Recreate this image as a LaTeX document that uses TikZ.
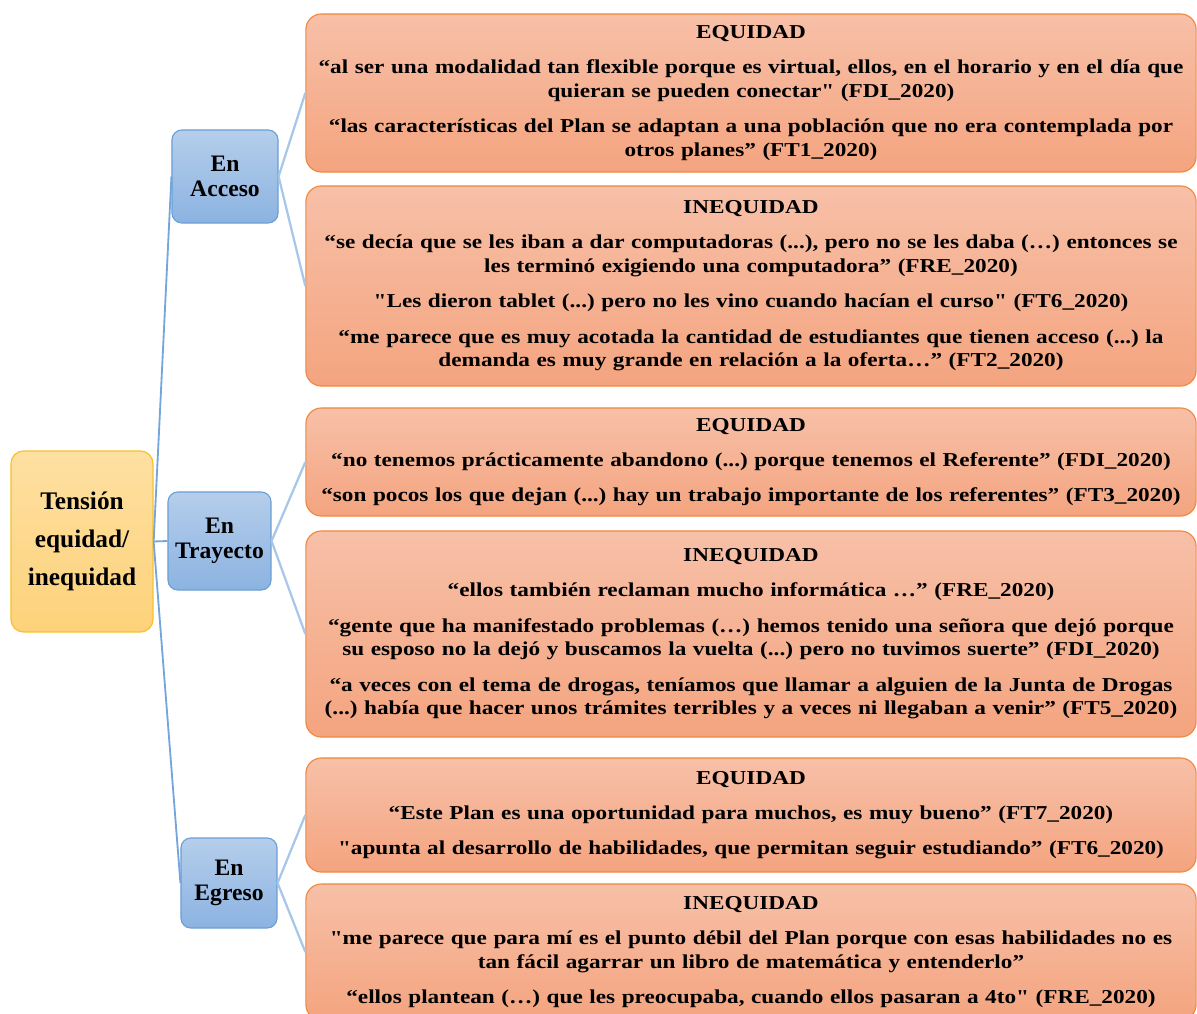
\documentclass[tikz,border=0pt]{standalone}
\usepackage{fontspec}
\setmainfont{Liberation Serif}
\newfontfamily\quotefont{Liberation Serif}[FakeStretch=1.18]
\definecolor{roottop}{HTML}{FEE0A2}
\definecolor{rootbot}{HTML}{FDD27A}
\definecolor{rootline}{HTML}{F7C12F}
\definecolor{stagetop}{HTML}{B5CEEB}
\definecolor{stagebot}{HTML}{8CB3E1}
\definecolor{stageline}{HTML}{6A9FD6}
\definecolor{quotetop}{HTML}{F7C0A8}
\definecolor{quotebot}{HTML}{F4A47F}
\definecolor{quoteline}{HTML}{F0883F}
\definecolor{trunkblue}{HTML}{74A5DB}
\definecolor{twigblue}{HTML}{A7C7EA}
\tikzset{
  rootbox/.style={draw=rootline, line width=0.9pt, rounded corners=9pt,
    top color=roottop, bottom color=rootbot, minimum width=3.55cm,
    minimum height=4.525cm, align=center,
    font=\fontsize{18}{27}\selectfont\bfseries},
  stagebox/.style={draw=stageline, line width=0.8pt, rounded corners=7pt,
    top color=stagetop, bottom color=stagebot, align=center,
    font=\fontsize{16.8}{18}\selectfont\bfseries},
  quotebox/.style={draw=quoteline, line width=0.8pt, rounded corners=11pt,
    top color=quotetop, bottom color=quotebot, minimum width=22.25cm,
    text width=22.2cm, inner xsep=0pt, align=center,
    font=\quotefont\fontsize{14}{17}\selectfont\bfseries},
  trunk/.style={draw=trunkblue, line width=1.3pt},
  twig/.style={draw=twigblue, line width=1.6pt},
}

\begin{document}
\frenchspacing
\begin{tikzpicture}[x=0.025cm, y=-0.025cm]
		%%%%% START %%%%%
		\clip (0, 0) rectangle (1197, 1013);
		
		\node[rootbox] (tension) at (82, 541.5) {Tensión\\equidad/\\inequidad};
		
		\node[stagebox, minimum width=2.65cm, minimum height=2.325cm] (acceso) at (225, 176.5) {En\\Acceso};
		\node[stagebox, minimum width=2.575cm, minimum height=2.45cm] (trayecto) at (219.5, 541) {En\\Trayecto};
		\node[stagebox, minimum width=2.4cm, minimum height=2.25cm] (egreso) at (229, 883) {En\\Egreso};
		
		% acceso
		\node[quotebox, minimum height=3.95cm] (accesoeq) at (751, 93) {EQUIDAD\\[8pt]
			“al ser una modalidad tan flexible porque es virtual, ellos, en el horario y en el día que\\
			quieran se pueden conectar" (FDI\_2020)\\[8pt]
			“las características del Plan se adaptan a una población que no era contemplada por\\
			otros planes” (FT1\_2020)};
		\node[quotebox, minimum height=5cm] (accesoineq) at (751, 286) {INEQUIDAD\\[8pt]
			“se decía que se les iban a dar computadoras (...), pero no se les daba (…) entonces se\\
			les terminó exigiendo una computadora” (FRE\_2020)\\[8pt]
			"Les dieron tablet (...) pero no les vino cuando hacían el curso" (FT6\_2020)\\[8pt]
			“me parece que es muy acotada la cantidad de estudiantes que tienen acceso (...) la\\
			demanda es muy grande en relación a la oferta…” (FT2\_2020)};
		
		% trayecto
		\node[quotebox, minimum height=2.7cm] (trayectoeq) at (751, 462) {EQUIDAD\\[8pt]
			“no tenemos prácticamente abandono (...) porque tenemos el Referente” (FDI\_2020)\\[8pt]
			“son pocos los que dejan (...) hay un trabajo importante de los referentes” (FT3\_2020)};
		\node[quotebox, minimum height=5.15cm] (trayectoineq) at (751, 634) {INEQUIDAD\\[8pt]
			“ellos también reclaman mucho informática …” (FRE\_2020)\\[8pt]
			“gente que ha manifestado problemas (…) hemos tenido una señora que dejó porque\\
			su esposo no la dejó y buscamos la vuelta (...) pero no tuvimos suerte” (FDI\_2020)\\[8pt]
			“a veces con el tema de drogas, teníamos que llamar a alguien de la Junta de Drogas\\
			(...) había que hacer unos trámites terribles y a veces ni llegaban a venir” (FT5\_2020)};
		
		% egreso
		\node[quotebox, minimum height=2.85cm] (egresoeq) at (751, 815) {EQUIDAD\\[8pt]
			“Este Plan es una oportunidad para muchos, es muy bueno” (FT7\_2020)\\[8pt]
			"apunta al desarrollo de habilidades, que permitan seguir estudiando” (FT6\_2020)};
		\node[quotebox, minimum height=3.4cm] (egresoineq) at (751, 952) {INEQUIDAD\\[8pt]
			"me parece que para mí es el punto débil del Plan porque con esas habilidades no es\\
			tan fácil agarrar un libro de matemática y entenderlo”\\[8pt]
			“ellos plantean (…) que les preocupaba, cuando ellos pasaran a 4to" (FRE\_2020)};
		
		\draw[trunk] (tension.east) -- (acceso.west);
		\draw[trunk] (tension.east) -- (trayecto.west);
		\draw[trunk] (tension.east) -- (egreso.west);
		
		\draw[twig] (acceso.east) -- (accesoeq.west);
		\draw[twig] (acceso.east) -- (accesoineq.west);
		\draw[twig] (trayecto.east) -- (trayectoeq.west);
		\draw[twig] (trayecto.east) -- (trayectoineq.west);
		\draw[twig] (egreso.east) -- (egresoeq.west);
		\draw[twig] (egreso.east) -- (egresoineq.west);
		
		%%%%% END %%%%%
	\end{tikzpicture}
\end{document}
